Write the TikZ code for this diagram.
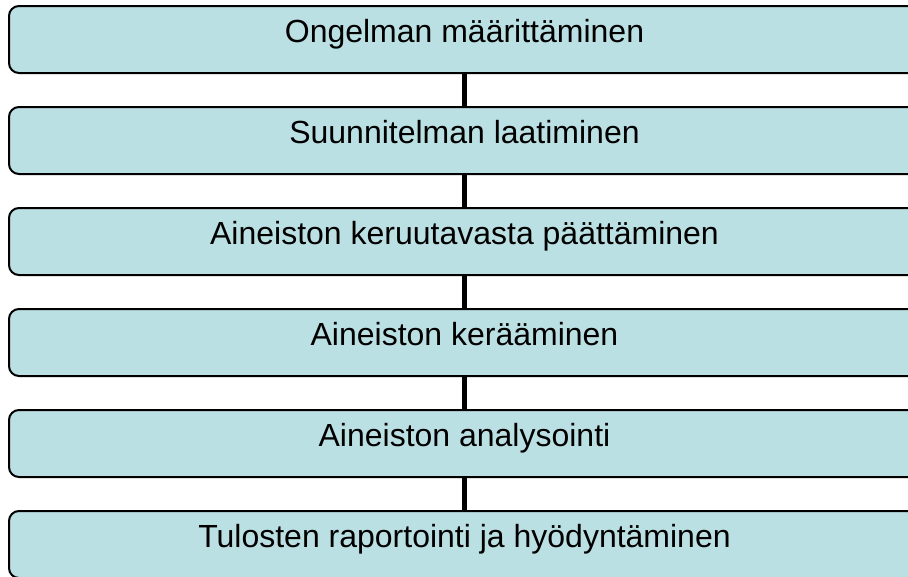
\documentclass[tikz,border=0pt]{standalone}
\usepackage{fontspec}
\setmainfont{Liberation Sans}
\definecolor{boxfill}{RGB}{187,224,227}
\tikzset{
  stepbox/.style={draw=black, line width=2pt, fill=boxfill, rounded corners=10pt,
    minimum width=911pt, inner sep=0pt, text height=36pt, text depth=31pt,
    font=\fontsize{32}{38}\selectfont},
  conn/.style={line width=5pt, draw=black}
}
\begin{document}
\begin{tikzpicture}[x=1pt,y=-1pt]
\useasboundingbox (0,0) rectangle (908,576);
\clip (0,0) rectangle (908,576);
\node[stepbox] (b1) at (464.5,39.5) {Ongelman määrittäminen};
\node[stepbox] (b2) at (464.5,140.5) {Suunnitelman laatiminen};
\node[stepbox] (b3) at (464.5,241.5) {Aineiston keruutavasta päättäminen};
\node[stepbox] (b4) at (464.5,342.5) {Aineiston kerääminen};
\node[stepbox] (b5) at (464.5,443.5) {Aineiston analysointi};
\node[stepbox] (b6) at (464.5,544.5) {Tulosten raportointi ja hyödyntäminen};
\draw[conn] (b1.south) -- (b2.north);
\draw[conn] (b2.south) -- (b3.north);
\draw[conn] (b3.south) -- (b4.north);
\draw[conn] (b4.south) -- (b5.north);
\draw[conn] (b5.south) -- (b6.north);
\end{tikzpicture}
\end{document}
